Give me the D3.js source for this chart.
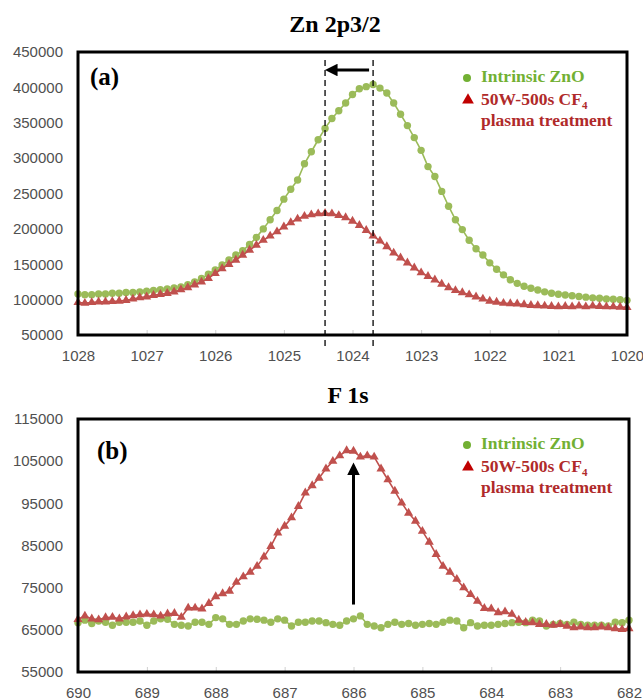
<!DOCTYPE html>
<html>
<head>
<meta charset="utf-8">
<script src="https://cdn.jsdelivr.net/npm/d3@7"></script>
<style>
  body { margin: 0; background: #fff; }
  svg { display: block; }
</style>
</head>
<body>
<div id="chart"></div>
<script>
var width = 643;
var height = 700;

// ---- Zn 2p3/2 panel (binding energy 1028 -> 1020, 0.1 eV steps)
var znEnergy = d3.range(0, 81).map(i => +(1028 - i * 0.1).toFixed(1));
var znIntrinsic = [
  108000, 107000, 107000, 108000, 108000, 109000, 109000, 110000, 110000, 111000,
  112000, 113000, 114000, 115000, 116500, 118000, 121000, 125000, 130000, 136000,
  142000, 149000, 156000, 163000, 169000, 178000, 188000, 200000, 213000, 226000,
  242000, 256000, 269000, 292000, 309000, 326000, 342000, 356000, 367000, 378000,
  390000, 398000, 401000, 404000, 399000, 392000, 378000, 362000, 346000, 329000,
  311000, 288000, 274000, 253000, 232000, 213000, 199000, 184000, 172000, 163000,
  152000, 143000, 135000, 128000, 123000, 119000, 116000, 113500, 111000, 109000,
  107500, 106500, 105500, 104500, 103500, 102500, 102000, 101000, 100500, 100000,
  99000
];
var znPlasma = [
  96000, 95000, 96000, 97000, 97000, 97500, 98000, 99000, 101000, 103000,
  104000, 106000, 107500, 109000, 111000, 114000, 117000, 121000, 125000, 130000,
  137000, 144000, 150000, 156000, 163000, 170000, 177000, 184000, 190000, 196000,
  203000, 209000, 214000, 218000, 220000, 221500, 222000, 221500, 219000, 216000,
  211000, 205000, 198000, 190000, 183000, 175000, 166000, 159000, 152000, 145000,
  138000, 133000, 128000, 122000, 117000, 113000, 110000, 107000, 104000, 101000,
  98000, 96500, 95000, 94500, 94000, 93000, 92000, 91500, 91000, 90500,
  90000, 90500, 90000, 91000, 90000, 91000, 90500, 90000, 90000, 89500,
  89000
];
var znYTicks = [50000, 100000, 150000, 200000, 250000, 300000, 350000, 400000, 450000];
var znXTicks = [1028, 1027, 1026, 1025, 1024, 1023, 1022, 1021, 1020];
var znPeaks = [1024.4, 1023.7];   // plasma peak, intrinsic peak

// ---- F 1s panel (binding energy 690 -> 682, 0.1 eV steps)
var fEnergy = d3.range(0, 81).map(i => +(690 - i * 0.1).toFixed(1));
var fIntrinsic = [
  66700, 67300, 66500, 67100, 66800, 66100, 66800, 66800, 66800, 67100,
  66100, 67100, 67600, 67500, 66300, 66100, 65900, 66800, 66800, 66300,
  67900, 67600, 66300, 66300, 67100, 67600, 67500, 67300, 66800, 67600,
  67300, 65900, 66800, 66800, 67100, 67100, 66700, 66300, 66100, 67100,
  67600, 68300, 66300, 65900, 65500, 66300, 66800, 66300, 66500, 66100,
  66300, 66500, 66300, 66800, 67300, 67100, 65500, 66700, 65900, 66100,
  66100, 66300, 66500, 66700, 66800, 66700, 67300, 67100, 65900, 66300,
  66500, 66300, 66800, 66300, 66100, 66100, 66100, 65900, 66800, 66700,
  67300
];
var fPlasma = [
  67500, 68300, 67600, 67400, 67900, 68000, 67600, 68100, 68400, 68600,
  68700, 68600, 68300, 68800, 68900, 68000, 70200, 70200, 70000, 71300,
  72900, 73600, 74200, 76300, 77600, 78700, 80100, 82300, 84800, 88000,
  89600, 91600, 94300, 97500, 99200, 101000, 103200, 105000, 106300, 107500,
  107400, 106000, 106300, 106000, 103200, 100600, 97900, 95100, 92700, 90800,
  88400, 85800, 82900, 80100, 78700, 77000, 75000, 73400, 71800, 70100,
  70000, 69100, 69300, 68700, 67300, 66800, 66700, 66300, 66300, 66100,
  66300, 65900, 65500, 65700, 65500, 65500, 65700, 65500, 65300, 65100,
  65300
];
var fYTicks = [55000, 65000, 75000, 85000, 95000, 105000, 115000];
var fXTicks = [690, 689, 688, 687, 686, 685, 684, 683, 682];
var fArrow = { x: 686.0, from: 71000, to: 104200 };

var greenLine = "#9BBB59", redLine = "#C0504D";
var greenLegend = "#72B033", redLegend = "#C00000", redText = "#B02A2A";
var serif = "'Liberation Serif', 'Times New Roman', serif";
var sans = "'Liberation Sans', Arial, sans-serif";

var svg = d3.select("#chart")
  .append("svg")
  .attr("width", width)
  .attr("height", height)
  .attr("viewBox", `0 0 ${width} ${height}`);

var defs = svg.append("defs");
defs.append("marker")
  .attr("id", "head")
  .attr("viewBox", "0 0 10 10")
  .attr("refX", 2).attr("refY", 5)
  .attr("markerWidth", 4.2).attr("markerHeight", 4.2)
  .attr("orient", "auto")
  .append("path")
  .attr("d", "M0,0 L10,5 L0,10 Z")
  .attr("fill", "#000");

function drawPanel(p) {
  var x = d3.scaleLinear().domain(p.xDomain).range([p.x0, p.x1]);
  var y = d3.scaleLinear().domain(p.yDomain).range([p.y1, p.y0]);
  var g = svg.append("g");

  // title
  g.append("text")
    .attr("x", p.titleX).attr("y", p.titleY)
    .attr("text-anchor", "middle")
    .style("font-family", serif).style("font-weight", "bold").style("font-size", "24px")
    .text(p.title);

  // y axis labels
  var yAxis = g.append("g")
    .attr("transform", `translate(${p.x0},0)`)
    .call(d3.axisLeft(y).tickValues(p.yTicks).tickSize(0).tickPadding(15).tickFormat(d3.format("d")));
  yAxis.select(".domain").remove();
  yAxis.selectAll("text")
    .style("font-family", sans).style("font-size", "15px").attr("fill", "#505050");

  // x axis with small inward ticks
  var xAxis = g.append("g")
    .attr("transform", `translate(0,${p.y1})`)
    .call(d3.axisBottom(x).tickValues(p.xTicks).tickSizeInner(-5).tickSizeOuter(0).tickPadding(15).tickFormat(d3.format("d")));
  xAxis.select(".domain").attr("stroke", "#bfbfbf");
  xAxis.selectAll(".tick line").attr("stroke", "#d0d0d0");
  xAxis.selectAll("text")
    .style("font-family", sans).style("font-size", "15px").attr("fill", "#505050");

  // series
  var line = d3.line().x(d => x(d[0])).y(d => y(d[1]));
  var greenPts = d3.zip(p.energy, p.intrinsic);
  var redPts = d3.zip(p.energy, p.plasma);

  g.append("path").datum(greenPts)
    .attr("fill", "none").attr("stroke", greenLine).attr("stroke-width", 1.6)
    .attr("d", line);
  g.selectAll(".gdot").data(greenPts).enter()
    .append("circle")
    .attr("class", "gdot")
    .attr("cx", d => x(d[0])).attr("cy", d => y(d[1]))
    .attr("r", 3.7)
    .attr("fill", greenLine);

  g.append("path").datum(redPts)
    .attr("fill", "none").attr("stroke", redLine).attr("stroke-width", 1.6)
    .attr("d", line);
  g.selectAll(".rtri").data(redPts).enter()
    .append("path")
    .attr("class", "rtri")
    .attr("transform", d => `translate(${x(d[0])},${y(d[1])})`)
    .attr("d", d3.symbol(d3.symbolTriangle).size(36))
    .attr("fill", redLine);

  // plot border
  g.append("rect")
    .attr("x", p.x0).attr("y", p.y0)
    .attr("width", p.x1 - p.x0).attr("height", p.y1 - p.y0)
    .attr("fill", "none").attr("stroke", "#000").attr("stroke-width", 3);

  // panel label
  g.append("text")
    .attr("x", p.x0 + p.labelDx).attr("y", p.y0 + p.labelDy)
    .style("font-family", serif).style("font-weight", "bold").style("font-size", "25px")
    .text(p.label);

  // legend
  var lg = g.append("g").attr("transform", `translate(467,${p.y0})`);
  lg.append("circle").attr("cx", 0).attr("cy", 26).attr("r", 4).attr("fill", greenLegend);
  lg.append("text").attr("x", 14).attr("y", 30)
    .style("font-family", serif).style("font-weight", "bold").style("font-size", "17.5px")
    .attr("fill", greenLegend).text("Intrinsic ZnO");
  lg.append("path")
    .attr("transform", "translate(1,48)")
    .attr("d", d3.symbol(d3.symbolTriangle).size(60))
    .attr("fill", redLegend);
  var t2 = lg.append("text").attr("x", 14).attr("y", 52.5)
    .style("font-family", serif).style("font-weight", "bold").style("font-size", "17.5px")
    .attr("fill", redText);
  t2.append("tspan").text("50W-500s CF");
  t2.append("tspan").attr("dy", 4).style("font-size", "11px").text("4");
  lg.append("text").attr("x", 14).attr("y", 74)
    .style("font-family", serif).style("font-weight", "bold").style("font-size", "17.5px")
    .attr("fill", redText).text("plasma treatment");

  return { x: x, y: y, g: g };
}

// top panel
var znPanel = drawPanel({
  title: "Zn 2p3/2", titleX: 335, titleY: 32, label: "(a)", labelDx: 12, labelDy: 33,
  x0: 78, x1: 627, y0: 52, y1: 335,
  xDomain: [1028, 1020], yDomain: [50000, 450000],
  xTicks: znXTicks, yTicks: znYTicks,
  energy: znEnergy, intrinsic: znIntrinsic, plasma: znPlasma
});

znPanel.g.selectAll(".peak").data(znPeaks).enter()
  .append("line")
  .attr("class", "peak")
  .attr("x1", d => znPanel.x(d)).attr("x2", d => znPanel.x(d))
  .attr("y1", 60).attr("y2", 347)
  .attr("stroke", "#000").attr("stroke-width", 1.3)
  .attr("stroke-dasharray", "6,4");

znPanel.g.append("line")
  .attr("x1", znPanel.x(znPeaks[1]) - 4).attr("x2", znPanel.x(znPeaks[0]) + 10)
  .attr("y1", 70).attr("y2", 70)
  .attr("stroke", "#000").attr("stroke-width", 3)
  .attr("marker-end", "url(#head)");

// bottom panel
var fPanel = drawPanel({
  title: "F 1s", titleX: 348, titleY: 403, label: "(b)", labelDx: 19, labelDy: 40,
  x0: 78, x1: 629, y0: 419, y1: 672,
  xDomain: [690, 682], yDomain: [55000, 115000],
  xTicks: fXTicks, yTicks: fYTicks,
  energy: fEnergy, intrinsic: fIntrinsic, plasma: fPlasma
});

fPanel.g.append("line")
  .attr("x1", fPanel.x(fArrow.x)).attr("x2", fPanel.x(fArrow.x))
  .attr("y1", fPanel.y(fArrow.from)).attr("y2", fPanel.y(fArrow.to) + 8)
  .attr("stroke", "#000").attr("stroke-width", 3)
  .attr("marker-end", "url(#head)");
</script>
</body>
</html>
